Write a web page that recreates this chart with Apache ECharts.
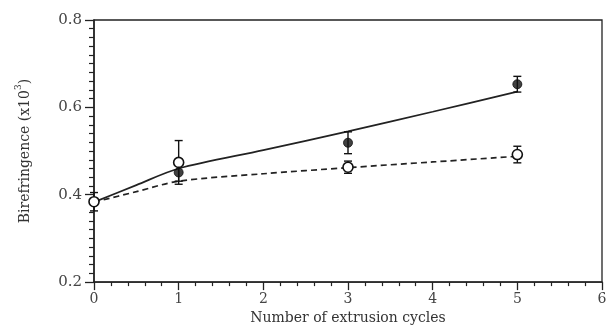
<!DOCTYPE html>
<html>
<head>
<meta charset="utf-8">
<script src="https://cdn.jsdelivr.net/npm/echarts@6/dist/echarts.min.js"></script>
<style>html,body{margin:0;padding:0;background:#fff}#c{width:613px;height:330px}</style>
</head>
<body>
<div id="c"></div>
<script>
// Fitted curves
const solidX = [0, 0.5, 1, 2, 3, 4, 5];
const solidY = [0.383, 0.422, 0.460, 0.502, 0.545, 0.590, 0.636];
const dashX = [0, 0.5, 1, 2, 3, 4, 5];
const dashY = [0.383, 0.407, 0.431, 0.448, 0.462, 0.475, 0.488];
// Filled circle measurements
const filledX = [1, 3, 5];
const filledY = [0.451, 0.519, 0.653];
const filledErr = [0.020, 0.025, 0.018];
// Open circle measurements
const openX = [0, 1, 3, 5];
const openY = [0.384, 0.474, 0.463, 0.492];
const openErr = [0.021, 0.050, 0.014, 0.019];
// Tick labels
const xTicks = [0, 1, 2, 3, 4, 5, 6];
const yTicks = [0.2, 0.4, 0.6, 0.8];

const pair = (xs, ys) => xs.map((x, i) => [x, ys[i]]);
const errData = (xs, ys, es) => xs.map((x, i) => [x, ys[i] - es[i], ys[i] + es[i]]);

function errRender(params, api) {
  const x = api.value(0);
  const lo = api.coord([x, api.value(1)]);
  const hi = api.coord([x, api.value(2)]);
  const w = 4;
  const st = {stroke: '#111', lineWidth: 1.4};
  return {
    type: 'group',
    children: [
      {type: 'line', shape: {x1: lo[0], y1: lo[1], x2: hi[0], y2: hi[1]}, style: st},
      {type: 'line', shape: {x1: lo[0] - w, y1: lo[1], x2: lo[0] + w, y2: lo[1]}, style: st},
      {type: 'line', shape: {x1: hi[0] - w, y1: hi[1], x2: hi[0] + w, y2: hi[1]}, style: st}
    ]
  };
}

const font = '"DejaVu Serif", "Liberation Serif", serif';
const chart = echarts.init(document.getElementById('c'));
chart.setOption({
  animation: false,
  backgroundColor: '#fff',
  grid: {left: 94, right: 11, top: 20, bottom: 45, show: true, borderColor: '#222', borderWidth: 1.3, backgroundColor: 'transparent'},
  xAxis: {
    type: 'value', min: 0, max: 6, interval: 1,
    name: 'Number of extrusion cycles', nameLocation: 'middle', nameGap: 26,
    nameTextStyle: {fontFamily: font, fontSize: 14, color: '#333'},
    axisLine: {show: true, lineStyle: {color: '#222', width: 1.5}},
    axisTick: {show: true, length: 8, lineStyle: {color: '#222', width: 1.3}},
    minorTick: {show: true, splitNumber: 5, length: 4, lineStyle: {color: '#222', width: 1.2}},
    axisLabel: {fontFamily: font, fontSize: 14, color: '#444', margin: 10,
      formatter: v => xTicks.includes(v) ? String(v) : ''},
    splitLine: {show: false}
  },
  yAxis: {
    type: 'value', min: 0.2, max: 0.8, interval: 0.2,
    name: '{a|Birefringence (x10}{s|3}{a|)}', nameLocation: 'middle', nameGap: 62,
    nameTextStyle: {fontFamily: font, fontSize: 14, color: '#333',
      rich: {a: {fontFamily: font, fontSize: 14, color: '#333', lineHeight: 18, verticalAlign: 'bottom'},
             s: {fontFamily: font, fontSize: 9, color: '#333', lineHeight: 18, verticalAlign: 'top'}}},
    axisLine: {show: true, lineStyle: {color: '#222', width: 1.5}},
    axisTick: {show: true, length: 9, lineStyle: {color: '#222', width: 1.3}},
    minorTick: {show: true, splitNumber: 10, length: 5, lineStyle: {color: '#222', width: 1.2}},
    axisLabel: {fontFamily: font, fontSize: 15, color: '#444', margin: 12,
      formatter: v => { const t = yTicks.find(y => Math.abs(y - v) < 1e-6); return t !== undefined ? t.toFixed(1) : ''; }},
    splitLine: {show: false}
  },
  series: [
    {type: 'line', data: pair(solidX, solidY), smooth: 0.3, showSymbol: false,
      lineStyle: {color: '#222', width: 1.7}, z: 2},
    {type: 'line', data: pair(dashX, dashY), smooth: 0.3, showSymbol: false,
      lineStyle: {color: '#222', width: 1.7, type: [6, 4]}, z: 2},
    {type: 'custom', renderItem: errRender, data: errData(filledX, filledY, filledErr),
      encode: {x: 0, y: [1, 2]}, z: 3},
    {type: 'custom', renderItem: errRender, data: errData(openX, openY, openErr),
      encode: {x: 0, y: [1, 2]}, z: 3},
    {type: 'scatter', data: pair(filledX, filledY), symbol: 'circle', symbolSize: 9,
      itemStyle: {color: '#111', borderColor: '#111', borderWidth: 1}, z: 4},
    {type: 'scatter', data: pair(openX, openY), symbol: 'circle', symbolSize: 10,
      itemStyle: {color: '#fff', borderColor: '#111', borderWidth: 1.6, opacity: 1}, z: 5}
  ]
});
</script>
</body>
</html>
